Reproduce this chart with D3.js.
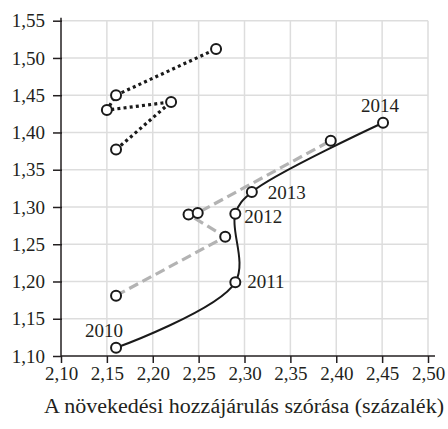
<!DOCTYPE html>
<html>
<head>
<meta charset="utf-8">
<script src="https://cdn.jsdelivr.net/npm/d3@7"></script>
<style>
  html, body { margin: 0; padding: 0; background: #fff; }
  svg { display: block; }
  text { font-family: "Liberation Serif", "DejaVu Serif", serif; fill: #231f20; }
</style>
</head>
<body>
<svg id="chart" width="448" height="429"></svg>
<script>
// ---- data ----
const xTicks = [2.10, 2.15, 2.20, 2.25, 2.30, 2.35, 2.40, 2.45, 2.50];
const yTicks = [1.10, 1.15, 1.20, 1.25, 1.30, 1.35, 1.40, 1.45, 1.50, 1.55];

const solidYears = ["2010", "2011", "2012", "2013", "2014"];
const solidX = [2.160, 2.290, 2.290, 2.308, 2.451];
const solidY = [1.111, 1.199, 1.291, 1.320, 1.413];

const dashedX = [2.160, 2.279, 2.239, 2.249, 2.394];
const dashedY = [1.181, 1.260, 1.290, 1.292, 1.389];

const dottedX = [2.160, 2.220, 2.150, 2.160, 2.269];
const dottedY = [1.377, 1.441, 1.430, 1.450, 1.512];

const xTitle = "A növekedési hozzájárulás szórása (százalék)";

// label placement (offsets from point, px)
const labelDX = [-12, 12, 9, 16, -3];
const labelDY = [-11, 6, 9, 7, -11];
const labelAnchor = ["middle", "start", "start", "start", "middle"];

// ---- layout ----
const svg = d3.select("#chart");
const fmt = v => d3.format(".2f")(v).replace(".", ",");
const FS = 19;

const x = d3.scaleLinear().domain([2.10, 2.50]).range([61, 428]);
const y = d3.scaleLinear().domain([1.10, 1.55]).range([356, 20.7]);

// grid
const grid = svg.append("g");
grid.selectAll("line.v").data(xTicks.slice(1)).enter().append("line")
  .attr("x1", d => x(d)).attr("x2", d => x(d))
  .attr("y1", y(1.55)).attr("y2", y(1.10))
  .attr("stroke", "#dddddd").attr("stroke-width", 1.5);
grid.selectAll("line.h").data(yTicks.slice(1)).enter().append("line")
  .attr("x1", x(2.10)).attr("x2", x(2.50))
  .attr("y1", d => y(d)).attr("y2", d => y(d))
  .attr("stroke", "#dddddd").attr("stroke-width", 1.5);

// axes
const xAxis = d3.axisBottom(x).tickValues(xTicks).tickFormat(fmt)
  .tickSize(7).tickSizeOuter(0).tickPadding(4);
const yAxis = d3.axisLeft(y).tickValues(yTicks).tickFormat(fmt)
  .tickSize(8).tickSizeOuter(0).tickPadding(8);

const gx = svg.append("g").attr("transform", `translate(0,${y(1.10)})`).call(xAxis);
const gy = svg.append("g").attr("transform", `translate(${x(2.10)},0)`).call(yAxis);
[gx, gy].forEach(g => {
  g.select(".domain").remove();
  g.selectAll(".tick line").attr("stroke", "#231f20").attr("stroke-width", 1.5);
  g.selectAll(".tick text").attr("font-size", FS)
    .attr("font-family", "Liberation Serif, DejaVu Serif, serif").attr("fill", "#231f20");
});
gy.selectAll(".tick line").attr("x2", -8).attr("x1", 1);
// axis lines
svg.append("line").attr("x1", x(2.10)).attr("x2", x(2.10))
  .attr("y1", y(1.55) - 3).attr("y2", y(1.10))
  .attr("stroke", "#231f20").attr("stroke-width", 1.5);
svg.append("line").attr("x1", x(2.10)).attr("x2", x(2.50) + 7)
  .attr("y1", y(1.10)).attr("y2", y(1.10))
  .attr("stroke", "#231f20").attr("stroke-width", 1.5);

// title
svg.append("text").attr("x", 244).attr("y", 413)
  .attr("text-anchor", "middle").attr("font-size", 20)
  .attr("textLength", 400).attr("lengthAdjust", "spacingAndGlyphs")
  .text(xTitle);

// series
const zip = (xs, ys) => xs.map((v, i) => [v, ys[i]]);
const lineStraight = d3.line().x(d => x(d[0])).y(d => y(d[1]));
const lineCurve = d3.line().x(d => x(d[0])).y(d => y(d[1])).curve(d3.curveCatmullRom.alpha(0.5));

const dashed = zip(dashedX, dashedY);
const dotted = zip(dottedX, dottedY);
const solid = zip(solidX, solidY);

svg.append("path").datum(dashed).attr("d", lineStraight)
  .attr("fill", "none").attr("stroke", "#b3b3b3").attr("stroke-width", 3.2)
  .attr("stroke-dasharray", "10,5");
svg.append("path").datum(dotted).attr("d", lineStraight)
  .attr("fill", "none").attr("stroke", "#1a1a1a").attr("stroke-width", 3.2)
  .attr("stroke-dasharray", "3,3.2");
svg.append("path").datum(solid).attr("d", lineCurve)
  .attr("fill", "none").attr("stroke", "#1a1a1a").attr("stroke-width", 2);

const pts = svg.append("g");
[dashed, dotted, solid].forEach(s => {
  pts.selectAll(null).data(s).enter().append("circle")
    .attr("cx", d => x(d[0])).attr("cy", d => y(d[1])).attr("r", 5)
    .attr("fill", "#fff").attr("stroke", "#1a1a1a").attr("stroke-width", 2);
});

// year labels
svg.append("g").selectAll("text").data(solid).enter().append("text")
  .attr("x", (d, i) => x(d[0]) + labelDX[i])
  .attr("y", (d, i) => y(d[1]) + labelDY[i])
  .attr("text-anchor", (d, i) => labelAnchor[i])
  .attr("font-size", FS)
  .text((d, i) => solidYears[i]);
</script>
</body>
</html>
